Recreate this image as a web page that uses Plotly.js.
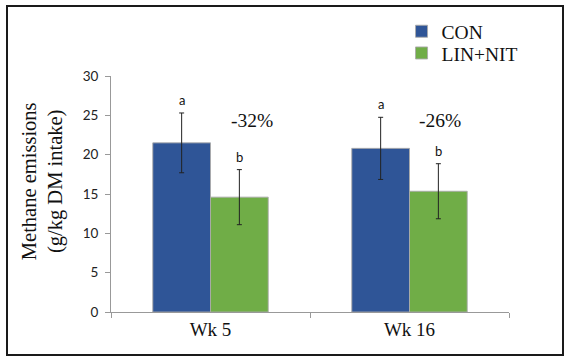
<!DOCTYPE html>
<html>
<head>
<meta charset="utf-8">
<script src="https://cdn.plot.ly/plotly-3.0.1.min.js"></script>
<style>
  html, body { margin: 0; padding: 0; background: #fff; }
  #wrap { position: relative; width: 569px; height: 363px; }
  #chart { width: 569px; height: 363px; }
  #frame { position: absolute; left: 6px; top: 5px; width: 554px; height: 347px;
           border: 2px solid #1a1a1a; pointer-events: none; }
</style>
</head>
<body>
<div id="wrap">
  <div id="chart"></div>
  <div id="frame"></div>
</div>
<script>
// ---- data ----
const weeks = ['Wk 5', 'Wk 16'];
const conValues = [21.5, 20.8];
const conErrors = [3.8, 3.95];
const linNitValues = [14.6, 15.35];
const linNitErrors = [3.5, 3.5];
const conLetters = ['a', 'a'];
const linNitLetters = ['b', 'b'];
const reductions = ['-32%', '-26%'];
const seriesNames = ['CON', 'LIN+NIT'];
const yTitle = 'Methane emissions<br>(g/kg DM intake)';

const serif = 'Liberation Serif, Times New Roman, serif';
const sans = 'Lato, Open Sans, sans-serif';

const traces = [
  {
    type: 'bar', name: seriesNames[0], x: weeks, y: conValues, legend: 'legend',
    marker: { color: '#2F5597', line: { color: 'rgba(170,170,170,0.9)', width: 1 } },
    error_y: { type: 'data', array: conErrors, visible: true, color: '#222', thickness: 1, width: 2.5 }
  },
  {
    type: 'bar', name: seriesNames[1], x: weeks, y: linNitValues, legend: 'legend2',
    marker: { color: '#70AD47', line: { color: 'rgba(170,170,170,0.9)', width: 1 } },
    error_y: { type: 'data', array: linNitErrors, visible: true, color: '#222', thickness: 1, width: 2.5 }
  }
];

const annotations = [];
const barOffset = 28.5;
weeks.forEach((w, i) => {
  annotations.push({
    x: w, y: conValues[i] + conErrors[i], xref: 'x', yref: 'y',
    text: conLetters[i], showarrow: false, xshift: -barOffset, yshift: 3,
    yanchor: 'bottom', font: { family: sans, size: 13, color: '#111' }
  });
  annotations.push({
    x: w, y: linNitValues[i] + linNitErrors[i], xref: 'x', yref: 'y',
    text: linNitLetters[i], showarrow: false, xshift: barOffset, yshift: 3,
    yanchor: 'bottom', font: { family: sans, size: 13, color: '#111' }
  });
});
annotations.push({
  x: weeks[0], y: 24.4, xref: 'x', yref: 'y', text: reductions[0], showarrow: false,
  xshift: 41.5, font: { family: serif, size: 19.5, color: '#111' }
});
annotations.push({
  x: weeks[1], y: 24.4, xref: 'x', yref: 'y', text: reductions[1], showarrow: false,
  xshift: 30.5, font: { family: serif, size: 19.5, color: '#111' }
});
// y-axis title (two lines, rotated)
annotations.push({
  x: (42.5 - 111) / 398, y: (312 - 180) / 239, xref: 'paper', yref: 'paper',
  text: yTitle, showarrow: false, textangle: -90,
  xanchor: 'center', yanchor: 'middle',
  font: { family: serif, size: 20.5, color: '#111' }
});

const legendStyle = (yPos) => ({
  x: 0.73, y: yPos, xanchor: 'left', yanchor: 'middle',
  font: { family: serif, size: 19.5, color: '#111' },
  bgcolor: 'rgba(0,0,0,0)', itemwidth: 30, borderwidth: 0
});

const layout = {
  width: 569, height: 363,
  margin: { l: 111, r: 60, t: 73, b: 51, pad: 0 },
  paper_bgcolor: '#fff', plot_bgcolor: '#fff',
  barmode: 'group', bargap: 0.42, bargroupgap: 0,
  showlegend: true,
  legend: legendStyle((312 - 28) / 239),
  legend2: legendStyle((312 - 50) / 239),
  xaxis: {
    type: 'category', showline: true, linecolor: '#999', linewidth: 1,
    ticks: 'outside', tickson: 'boundaries', ticklen: 5, tickcolor: '#999',
    tickfont: { family: serif, size: 19, color: '#111' }, showgrid: false, zeroline: false
  },
  yaxis: {
    range: [0, 30], dtick: 5, showline: true, linecolor: '#999', linewidth: 1,
    ticks: 'outside', ticklen: 5, tickcolor: '#999', ticklabelstandoff: 4,
    tickfont: { family: sans, size: 13.5, color: '#222' }, showgrid: false, zeroline: false
  },
  annotations: annotations
};

Plotly.newPlot('chart', traces, layout, { staticPlot: true, displayModeBar: false });
</script>
</body>
</html>
